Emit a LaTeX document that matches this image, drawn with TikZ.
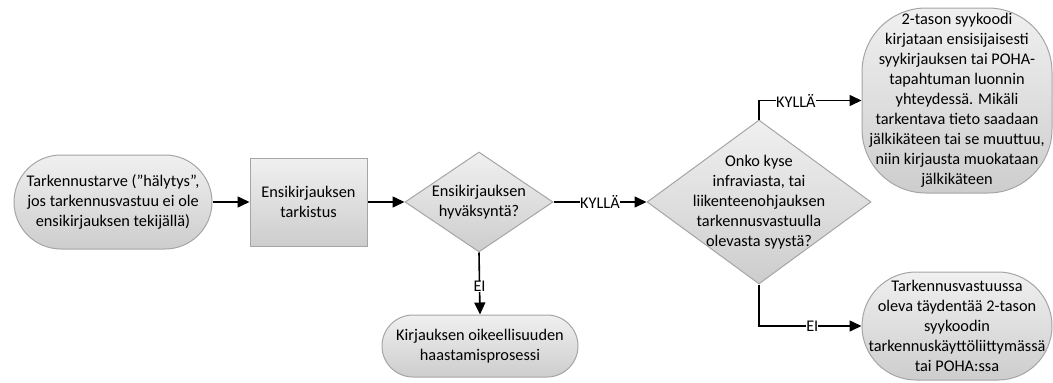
\documentclass[tikz,border=0pt]{standalone}
\usepackage{fontspec}
\setmainfont{Carlito}
\usetikzlibrary{shapes.geometric,arrows.meta}
\definecolor{shapeedge}{HTML}{A5A5A5}
\definecolor{shapetop}{HTML}{F0F0F0}
\definecolor{shapebot}{HTML}{CDCDCD}
\tikzset{
  txt/.style={font=\fontsize{16.3}{20}\selectfont, align=center, inner sep=0pt},
  shaded/.style={draw=shapeedge, line width=1pt, top color=shapetop, bottom color=shapebot},
  terminal/.style={shaded, rectangle, inner sep=0pt},
  procbox/.style={shaded, rectangle, inner sep=0pt},
  decision/.style={shaded, diamond, inner sep=0pt},
  flow/.style={line width=1.6pt, -{Triangle[length=12pt,width=11pt]}},
  edgelabel/.style={font=\fontsize{16.3}{20}\selectfont, fill=white, inner sep=0pt}
}
\begin{document}
\begin{tikzpicture}[x=1pt,y=-1pt]
\useasboundingbox (0,0) rectangle (1053,383);

% start terminal
\node[terminal, minimum width=198pt, minimum height=94pt, rounded corners=47pt] (start) at (113,202) {};
\node[txt] (starttxt) at (start.center) {Tarkennustarve (”hälytys”,\\jos tarkennusvastuu ei ole\\ensikirjauksen tekijällä)};

% first check
\node[procbox, minimum width=117pt, minimum height=88pt] (check) at (308.5,202) {};
\node[txt] (checktxt) at (check.center) {Ensikirjauksen\\tarkistus};

% approval decision
\node[decision, minimum width=148pt, minimum height=100pt] (approve) at (479,202) {};
\node[txt] (approvetxt) at (approve.center) {Ensikirjauksen\\hyväksyntä?};

% challenge process
\node[terminal, minimum width=196pt, minimum height=62pt, rounded corners=31pt] (challenge) at (480,346) {};
\node[txt] (challengetxt) at (challenge.center) {Kirjauksen oikeellisuuden\\haastamisprosessi};

% responsibility decision
\node[decision, minimum width=224pt, minimum height=164pt] (resp) at (759,202) {};
\node[txt] (resptxt) at (resp.center) {Onko kyse\\infraviasta, tai\\liikenteenohjauksen\\tarkennusvastuulla\\olevasta syystä?};

% yes outcome
\node[terminal, minimum width=190pt, minimum height=185pt, rounded corners=64pt] (yesout) at (957,100.5) {};
\node[txt] (yesouttxt) at (yesout.center) {2-tason syykoodi\\kirjataan ensisijaisesti\\syykirjauksen tai POHA-\\tapahtuman luonnin\\yhteydessä. Mikäli\\tarkentava tieto saadaan\\jälkikäteen tai se muuttuu,\\niin kirjausta muokataan\\jälkikäteen};

% no outcome
\node[terminal, minimum width=190pt, minimum height=108pt, rounded corners=54pt] (noout) at (957,326) {};
\node[txt] (noouttxt) at (noout.center) {Tarkennusvastuussa\\oleva täydentää 2-tason\\syykoodin\\tarkennuskäyttöliittymässä\\tai POHA:ssa};

% connectors
\draw[flow] (start.east) -- (check.west);
\draw[flow] (check.east) -- (approve.west);
\draw[flow] (approve.east) -- node[edgelabel] {KYLLÄ} (resp.west);
\draw[flow] (approve.south) -- node[edgelabel, pos=0.55] {EI} (challenge.north);
\draw[flow] (resp.north) |- node[edgelabel, pos=0.68] {KYLLÄ} (yesout.west);
\draw[flow] (resp.south) |- node[edgelabel, pos=0.76] {EI} (noout.west);
\end{tikzpicture}
\end{document}
